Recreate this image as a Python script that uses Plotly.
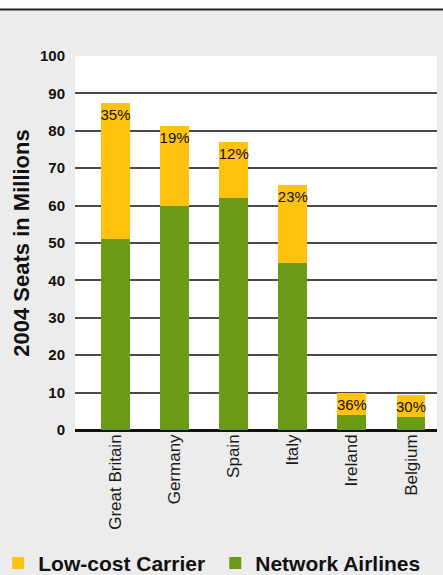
import plotly.graph_objects as go

countries = ["Great Britain", "Germany", "Spain", "Italy", "Ireland", "Belgium"]
network = [51.1, 59.9, 62.1, 44.7, 4.0, 3.5]
lowcost_total = [87.4, 81.3, 77.0, 65.5, 9.8, 9.4]
lowcost = [round(t - n, 1) for t, n in zip(lowcost_total, network)]
share_labels = ["35%", "19%", "12%", "23%", "36%", "30%"]

YELLOW = "#FFC20F"
GREEN = "#6A9A16"
BG = "#ECECEC"

fig = go.Figure()
fig.add_trace(go.Bar(
    x=countries, y=network, name="Network Airlines",
    marker=dict(color=GREEN, line=dict(width=0)),
))
fig.add_trace(go.Bar(
    x=countries, y=lowcost, name="Low-cost Carrier",
    marker=dict(color=YELLOW, line=dict(width=0)),
    text=share_labels, textposition="inside", insidetextanchor="end",
    textangle=0, constraintext="none",
    textfont=dict(family="Liberation Sans Narrow, Arial Narrow, sans-serif", size=15, color="#111"),
))

fig.update_layout(
    width=443, height=575,
    barmode="stack", bargap=0.51,
    paper_bgcolor=BG, plot_bgcolor="white",
    margin=dict(l=75, r=6, t=56, b=145, autoexpand=False),
    font=dict(family="Arial, Liberation Sans, sans-serif", color="#111"),
    showlegend=True,
    legend=dict(
        orientation="h", traceorder="reversed",
        x=-0.212, xanchor="left", y=-0.302, yanchor="top",
        font=dict(size=21, weight="bold", color="#111"),
        entrywidth=172, entrywidthmode="pixels",
        bgcolor="rgba(0,0,0,0)",
    ),
    xaxis=dict(
        range=[-0.686, 5.44], tickangle=-90, automargin=False,
        tickfont=dict(size=17, color="#1a1a1a"),
        showgrid=False, showline=False, ticks="",
    ),
    yaxis=dict(
        range=[0, 100], dtick=10, tickmode="linear", automargin=False,
        showgrid=True, gridcolor="#4a4a4a", gridwidth=1.5,
        zeroline=True, zerolinecolor="#111", zerolinewidth=2.5,
        ticks="outside", ticklen=6, tickcolor="rgba(0,0,0,0)",
        tickfont=dict(size=15, weight="bold", color="#111"),
        title=dict(text="2004 Seats in Millions", standoff=4,
                   font=dict(size=22, weight="bold", color="#111")),
        showline=False,
    ),
    shapes=[
        dict(type="rect", xref="paper", yref="paper", x0=-0.3, x1=1.1, y0=1.1243, y1=1.2,
             fillcolor="white", line=dict(width=0), layer="below"),
        dict(type="line", xref="paper", yref="paper", x0=-0.3, x1=1.1, y0=1.1243, y1=1.1243,
             line=dict(color="#222", width=2)),
    ],
)

fig.write_html("out.html")
